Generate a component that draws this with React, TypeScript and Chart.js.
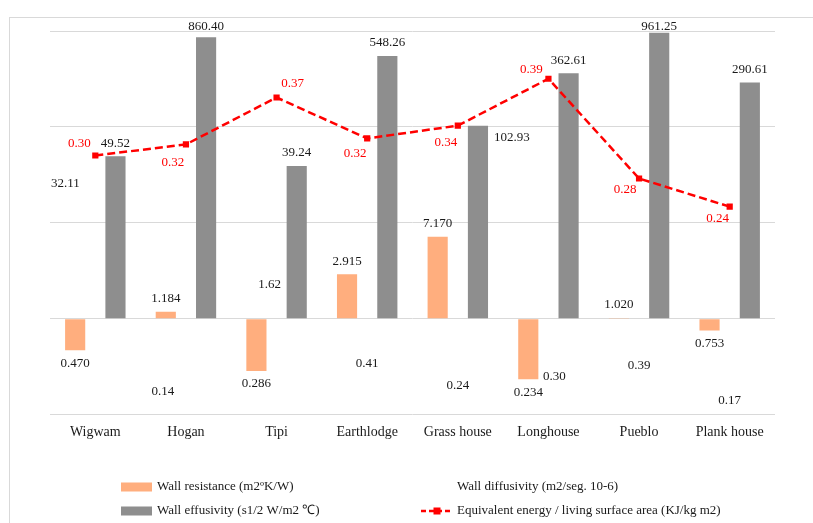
import React, { useEffect, useRef } from "react";
import { Chart, registerables } from "chart.js";

Chart.register(...registerables);

const categories = ["Wigwam", "Hogan", "Tipi", "Earthlodge", "Grass house", "Longhouse", "Pueblo", "Plank house"];
const seriesNames = [
  "Wall resistance (m2ºK/W)",
  "Wall diffusivity (m2/seg. 10-6)",
  "Wall effusivity (s1/2 W/m2 ℃)",
  "Equivalent energy / living surface area (KJ/kg m2)",
];
const wallResistance = [0.47, 1.184, 0.286, 2.915, 7.17, 0.234, 1.02, 0.753];
const wallDiffusivity = [32.11, 0.14, 1.62, 0.41, 0.24, 0.3, 0.39, 0.17];
const wallEffusivity = [49.52, 860.4, 39.24, 548.26, 102.93, 362.61, 961.25, 290.61];
const equivalentEnergy = [0.304, 0.317, 0.372, 0.324, 0.339, 0.394, 0.277, 0.244];
const logTicks = [0.1, 1, 10, 100, 1000];

const FONT = '"Liberation Serif", "Times New Roman", serif';
const ORANGE = "#FFAE7E";
const GRAY = "#8E8E8E";
const RED = "#FF0000";
const TEXT = "#1a1a1a";

// label styling per dataset (decimals, colour, offsets, per-point nudges)
const labelStyles: any[] = [
  { kind: "bar", decimals: 3, color: TEXT, up: 13, down: 13, nudge: {} },
  { kind: "bar", decimals: 2, color: TEXT, up: 14, down: 7.5, nudge: { 0: [-30, 23], 1: [-23, -17], 2: [-7, 0], 5: [6, 0] } },
  { kind: "bar", decimals: 2, color: TEXT, up: 13, down: 13, nudge: { 4: [34, 25] } },
  {
    kind: "line", decimals: 2, color: RED,
    nudge: { 0: [-16, -12], 1: [-13, 18], 2: [16, -14], 3: [-12, 15], 4: [-12, 17], 5: [-17, -9], 6: [-14, 11], 7: [-12, 12] },
  },
];

const frameAndLabels = {
  id: "frameAndLabels",
  beforeDraw(chart: any) {
    const ctx = chart.ctx;
    ctx.save();
    ctx.strokeStyle = "#d9d9d9";
    ctx.lineWidth = 1;
    ctx.strokeRect(9.5, 17.5, 1000, 1000);
    ctx.restore();
  },
  afterDatasetsDraw(chart: any) {
    const ctx = chart.ctx;
    ctx.save();
    ctx.font = `13px ${FONT}`;
    ctx.textAlign = "center";
    ctx.textBaseline = "middle";
    chart.data.datasets.forEach((ds: any, di: number) => {
      const meta = chart.getDatasetMeta(di);
      const st = labelStyles[di];
      meta.data.forEach((el: any, i: number) => {
        const v = ds.data[i];
        let x = el.x;
        let y = el.y;
        if (st.kind === "bar") {
          y = v >= 1 ? Math.max(el.y - st.up, 26.5) : el.y + st.down;
        }
        const n = st.nudge[i];
        if (n) {
          x += n[0];
          y += n[1];
        }
        ctx.fillStyle = st.color;
        ctx.fillText(v.toFixed(st.decimals), x, y);
      });
    });
    ctx.restore();
  },
  afterDraw(chart: any) {
    const ctx = chart.ctx;
    const ds = chart.data.datasets;
    ctx.save();
    ctx.font = `13px ${FONT}`;
    ctx.textBaseline = "middle";
    ctx.textAlign = "left";
    const col = [121, 421];
    const row = [487, 511];
    const place = [
      [0, 0],
      [1, 0],
      [0, 1],
      [1, 1],
    ];
    ds.forEach((d: any, i: number) => {
      const x = col[place[i][0]];
      const y = row[place[i][1]];
      if (i === 0 || i === 2) {
        ctx.fillStyle = d.backgroundColor;
        ctx.fillRect(x, y - 4.5, 31, 9);
      } else if (i === 3) {
        ctx.strokeStyle = RED;
        ctx.lineWidth = 2.5;
        ctx.setLineDash([5, 3]);
        ctx.beginPath();
        ctx.moveTo(x, y);
        ctx.lineTo(x + 32, y);
        ctx.stroke();
        ctx.setLineDash([]);
        ctx.fillStyle = RED;
        ctx.fillRect(x + 12.5, y - 3.5, 7, 7);
      }
      ctx.fillStyle = TEXT;
      ctx.fillText(d.label, x + 36, y);
    });
    ctx.restore();
  },
};

export default function App() {
  const ref = useRef<HTMLCanvasElement | null>(null);
  useEffect(() => {
    if (!ref.current) return;
    const chart = new Chart(ref.current, {
      type: "bar",
      data: {
        labels: categories,
        datasets: [
          {
            type: "bar",
            label: seriesNames[0],
            data: wallResistance,
            backgroundColor: ORANGE,
            base: 1,
            yAxisID: "y",
            order: 1,
          } as any,
          {
            type: "bar",
            label: seriesNames[1],
            data: wallDiffusivity,
            backgroundColor: "rgba(0,0,0,0)",
            base: 1,
            yAxisID: "y",
            order: 1,
          } as any,
          {
            type: "bar",
            label: seriesNames[2],
            data: wallEffusivity,
            backgroundColor: GRAY,
            base: 1,
            yAxisID: "y",
            order: 1,
          } as any,
          {
            type: "line",
            label: seriesNames[3],
            data: equivalentEnergy,
            borderColor: RED,
            backgroundColor: RED,
            borderWidth: 2.5,
            borderDash: [8, 4],
            pointStyle: "rect",
            pointRadius: 4.4,
            pointBorderWidth: 0,
            pointBackgroundColor: RED,
            tension: 0,
            yAxisID: "y2",
            order: 0,
          } as any,
        ],
      },
      options: {
        responsive: false,
        maintainAspectRatio: false,
        animation: false,
        datasets: { bar: { categoryPercentage: 0.667, barPercentage: 1 } },
        layout: { padding: { left: 50, right: 38, top: 31, bottom: 73.5 } },
        plugins: { legend: { display: false }, tooltip: { enabled: false } },
        scales: {
          x: {
            grid: { display: false, drawTicks: false },
            border: { display: false },
            ticks: { color: TEXT, font: { family: FONT, size: 14 }, padding: 9, autoSkip: false, maxRotation: 0 },
          },
          y: {
            type: "logarithmic",
            min: 0.1,
            max: 1000,
            afterBuildTicks: (s: any) => {
              s.ticks = logTicks.map((v) => ({ value: v }));
            },
            grid: { color: "#d9d9d9", lineWidth: 1, drawTicks: false },
            border: { display: false },
            ticks: { display: false },
          },
          y2: {
            type: "linear",
            min: 0,
            max: 0.45,
            display: false,
          },
        },
      },
      plugins: [frameAndLabels],
    });
    return () => chart.destroy();
  }, []);
  return (
    <div style={{ position: "fixed", left: 0, top: 0, width: 813, height: 523, background: "#fff" }}>
      <canvas ref={ref} width={813} height={523} style={{ width: 813, height: 523, display: "block" }} />
    </div>
  );
}
